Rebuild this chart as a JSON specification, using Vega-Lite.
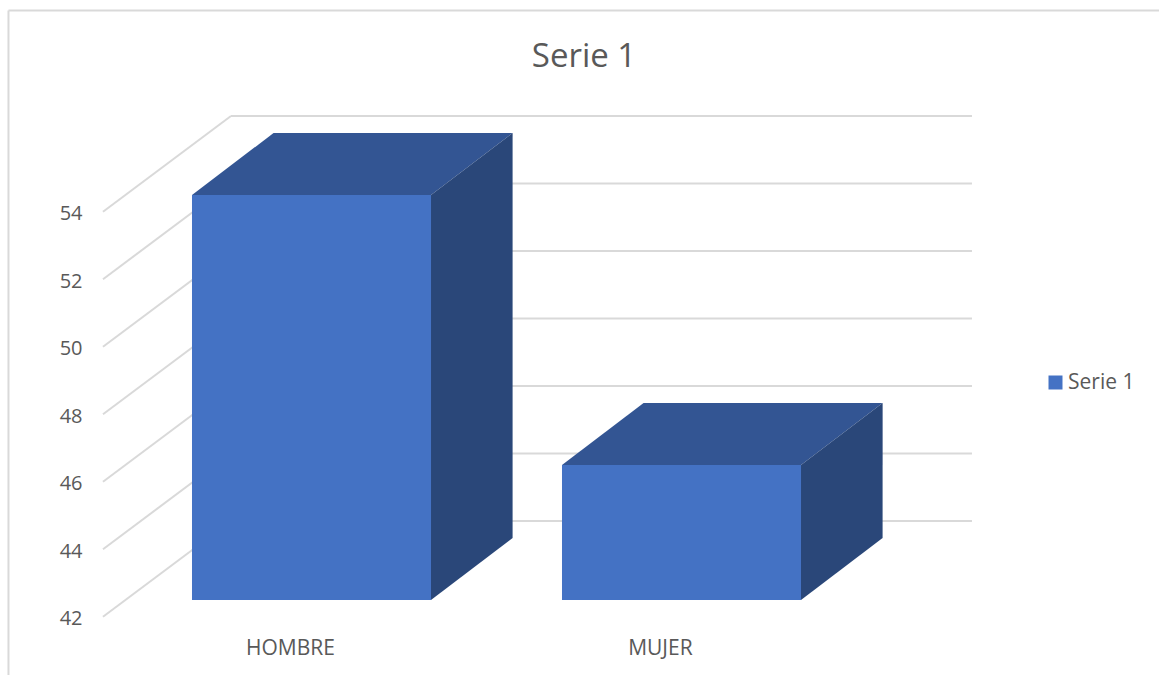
{
"$schema":"https://vega.github.io/schema/vega-lite/v6.json",
"width":925,"height":607.5,
"autosize":{"type":"none"},
"padding":{"left":89.5,"top":60,"right":144.5,"bottom":7.5},
"background":"white",
"title":{"text":"Serie 1","anchor":"middle","frame":"group","dx":32,"dy":69,"fontSize":33,"font":"Open Sans","fontWeight":"normal","color":"#595959"},
"config":{"view":{"stroke":null},"font":"Open Sans"},
"resolve":{"axis":{"y":"independent","x":"independent"}},
"datasets":{
"barras":[{"sexo":"HOMBRE","posicion":0,"valor":54,"serie":"Serie 1"},{"sexo":"MUJER","posicion":1,"valor":46,"serie":"Serie 1"}],
"caras":[{"sexo":"HOMBRE","posicion":0,"valor":54,"prof":0},{"sexo":"HOMBRE","posicion":0,"valor":54,"prof":1},{"sexo":"MUJER","posicion":1,"valor":46,"prof":0},{"sexo":"MUJER","posicion":1,"valor":46,"prof":1}],
"rejilla":[{"nivel":42},{"nivel":44},{"nivel":46},{"nivel":48},{"nivel":50},{"nivel":52},{"nivel":54}],
"marco":[{"borde":"marco"}]
},
"layer":[
{"data":{"name":"marco"},"mark":{"type":"rule","color":"#D9D9D9","strokeWidth":2},
 "encoding":{"x":{"datum":-0.819,"type":"quantitative","scale":{"domain":[-0.6,1.9],"nice":false,"zero":false},"axis":null},
 "y":{"datum":59.467,"type":"quantitative","scale":{"domain":[40,58],"nice":false,"zero":false},"axis":null},"y2":{"datum":39.7}}},
{"data":{"name":"marco"},"mark":{"type":"rule","color":"#D9D9D9","strokeWidth":2},
 "encoding":{"x":{"datum":-0.819,"type":"quantitative","scale":{"domain":[-0.6,1.9],"nice":false,"zero":false},"axis":null},"x2":{"datum":2.3},
 "y":{"datum":59.467,"type":"quantitative","scale":{"domain":[40,58],"nice":false,"zero":false},"axis":null}}},
{"data":{"name":"rejilla"},
 "transform":[{"calculate":"datum.nivel+2.34","as":"fondo"},{"calculate":"datum.nivel-0.495","as":"frente"},{"calculate":"-0.5635","as":"x0"},{"calculate":"-0.2176","as":"x1"},{"calculate":"1.785","as":"x2"}],
 "resolve":{"axis":{"y":"independent","x":"independent"}},
 "layer":[
 {"mark":{"type":"rule","color":"#D9D9D9","strokeWidth":2},
  "encoding":{"x":{"field":"x0","type":"quantitative","scale":{"domain":[-0.6,1.9],"nice":false,"zero":false},"axis":null},"x2":{"field":"x1"},
  "y":{"field":"frente","type":"quantitative","scale":{"domain":[40,58],"nice":false,"zero":false},"axis":null},"y2":{"field":"fondo"}}},
 {"mark":{"type":"rule","color":"#D9D9D9","strokeWidth":2},
  "encoding":{"x":{"field":"x1","type":"quantitative","scale":{"domain":[-0.6,1.9],"nice":false,"zero":false},"axis":null},"x2":{"field":"x2"},
  "y":{"field":"fondo","type":"quantitative","scale":{"domain":[40,58],"nice":false,"zero":false},"axis":null}}},
 {"mark":{"type":"rule","opacity":0},
  "encoding":{"y":{"field":"nivel","type":"quantitative","scale":{"domain":[40,58],"nice":false,"zero":false},
   "axis":{"title":null,"values":[42,44,46,48,50,52,54],"domain":false,"ticks":false,"grid":false,"labelPadding":7.5,"labelOffset":18.5,"labelFontSize":20,"labelFont":"Open Sans","labelColor":"#595959"}}}}
 ]},
{"data":{"name":"caras"},
 "transform":[{"calculate":"datum.posicion-0.323+datum.prof*0.2205","as":"izq"},{"calculate":"datum.posicion+0.323+datum.prof*0.2205","as":"der"},{"calculate":"datum.valor+datum.prof*1.837","as":"techo"},{"calculate":"42+datum.prof*1.837","as":"piso"}],
 "layer":[
 {"mark":{"type":"area","orient":"horizontal","color":"#335593"},
  "encoding":{"detail":{"field":"sexo"},"x":{"field":"izq","type":"quantitative","stack":null,"scale":{"domain":[-0.6,1.9],"nice":false,"zero":false},"axis":null},"x2":{"field":"der"},
  "y":{"field":"techo","type":"quantitative","stack":null,"scale":{"domain":[40,58],"nice":false,"zero":false},"axis":null}}},
 {"mark":{"type":"area","orient":"vertical","color":"#2A4779"},
  "encoding":{"detail":{"field":"sexo"},"x":{"field":"der","type":"quantitative","stack":null,"scale":{"domain":[-0.6,1.9],"nice":false,"zero":false},"axis":null},
  "y":{"field":"piso","type":"quantitative","stack":null,"scale":{"domain":[40,58],"nice":false,"zero":false},"axis":null},"y2":{"field":"techo"}}}
 ]},
{"data":{"name":"barras"},
 "transform":[{"calculate":"datum.posicion-0.323","as":"izq"},{"calculate":"datum.posicion+0.323","as":"der"},{"calculate":"42","as":"base"},{"calculate":"datum.posicion-0.057","as":"etiq"}],
 "layer":[
 {"mark":{"type":"rect"},
  "encoding":{"x":{"field":"izq","type":"quantitative","scale":{"domain":[-0.6,1.9],"nice":false,"zero":false},"axis":null},"x2":{"field":"der"},
  "y":{"field":"base","type":"quantitative","scale":{"domain":[40,58],"nice":false,"zero":false},"axis":null},"y2":{"field":"valor"},
  "color":{"field":"serie","type":"nominal","scale":{"range":["#4472C4"]},
   "legend":{"title":null,"orient":"none","legendX":955.5,"legendY":312,"symbolType":"square","symbolSize":196,"symbolStrokeWidth":0,"labelFontSize":21,"labelFont":"Open Sans","labelColor":"#595959","labelOffset":2}}}},
 {"mark":{"type":"text","fontSize":21,"font":"Open Sans","color":"#595959","dy":49,"align":"center","baseline":"middle"},
  "encoding":{"x":{"field":"etiq","type":"quantitative","scale":{"domain":[-0.6,1.9],"nice":false,"zero":false},"axis":null},
  "y":{"field":"base","type":"quantitative","scale":{"domain":[40,58],"nice":false,"zero":false},"axis":null},"text":{"field":"sexo"}}}
 ]}
]
}
